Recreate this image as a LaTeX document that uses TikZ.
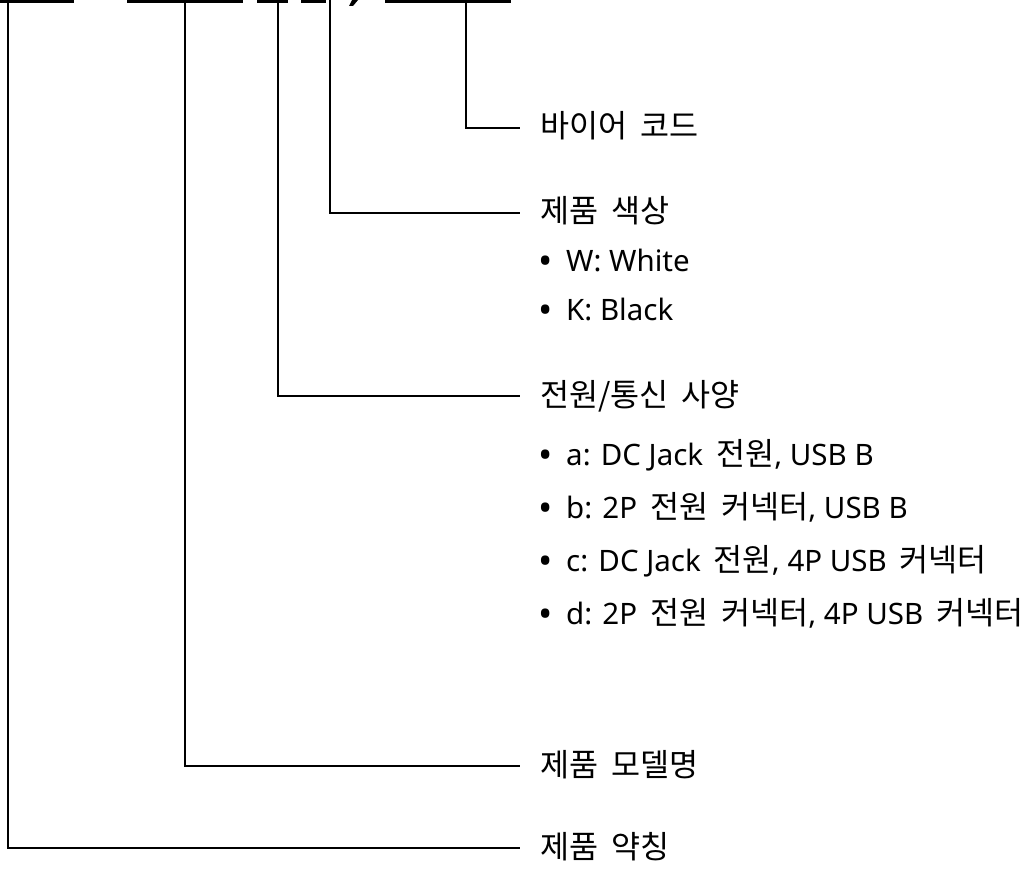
\documentclass[tikz,border=0pt]{standalone}
\usepackage{fontspec}
\setmainfont{Noto Sans}
\newfontfamily\krfont[Scale=1.07]{Noto Sans CJK KR}
\newcommand\K[1]{{\krfont #1}}
\newcommand\gap{\hspace{13pt}}
\newcommand\bul{\makebox[28pt][l]{\raisebox{-3pt}{\fontsize{38}{38}\selectfont •}}}
\begin{document}
\begin{tikzpicture}[x=1pt,y=-1pt,
  conn/.style={draw=black,line width=2pt},
  bar/.style={fill=black},
  lab/.style={anchor=west,inner xsep=20pt,inner ysep=0pt,text height=24pt,text depth=4pt,
    font=\fontsize{29.5}{34}\selectfont},
  item/.style={anchor=base west,inner sep=0pt,font=\fontsize{29.5}{34}\selectfont}]
\useasboundingbox (0,0) rectangle (1029,869);
% cropped title underlines
\fill[bar] (0,0) rectangle (74,3);
\fill[bar] (127,0) rectangle (243,3);
\fill[bar] (257,0) rectangle (288,3);
\fill[bar] (301,0) rectangle (326,3);
\fill[bar] (385,0) rectangle (511,3);
\fill[bar] (352,0) -- (358,0) -- (353,6) -- (349,6) -- cycle;
% tops
\coordinate (t1) at (8,0);
\coordinate (t2) at (185,0);
\coordinate (t3) at (278,0);
\coordinate (t4) at (330,0);
\coordinate (t5) at (466,0);
% labels
\node[lab] (buyer) at (520,128) {\K{바이어\gap 코드}};
\node[lab] (color) at (520,213) {\K{제품\gap 색상}};
\node[item] (w) at (538,272) {\bul W: White};
\node[item] (k) at (538,320) {\bul K: Black};
\node[lab] (power) at (520,396) {\K{전원/통신\gap 사양}};
\node[item] (ia) at (538,465) {\bul a: DC Jack\gap\K{전원}, USB B};
\node[item] (ib) at (538,518) {\bul b: 2P\gap\K{전원\gap 커넥터}, USB B};
\node[item] (ic) at (538,571) {\bul c: DC Jack\gap\K{전원}, 4P USB\gap\K{커넥터}};
\node[item] (id) at (538,624) {\bul d: 2P\gap\K{전원\gap 커넥터}, 4P USB\gap\K{커넥터}};
\node[lab] (model) at (520,766) {\K{제품\gap 모델명}};
\node[lab] (abbr) at (520,848) {\K{제품\gap 약칭}};
% connectors
\draw[conn] (t5) |- (buyer.west);
\draw[conn] (t4) |- (color.west);
\draw[conn] (t3) |- (power.west);
\draw[conn] (t2) |- (model.west);
\draw[conn] (t1) |- (abbr.west);
\end{tikzpicture}
\end{document}
